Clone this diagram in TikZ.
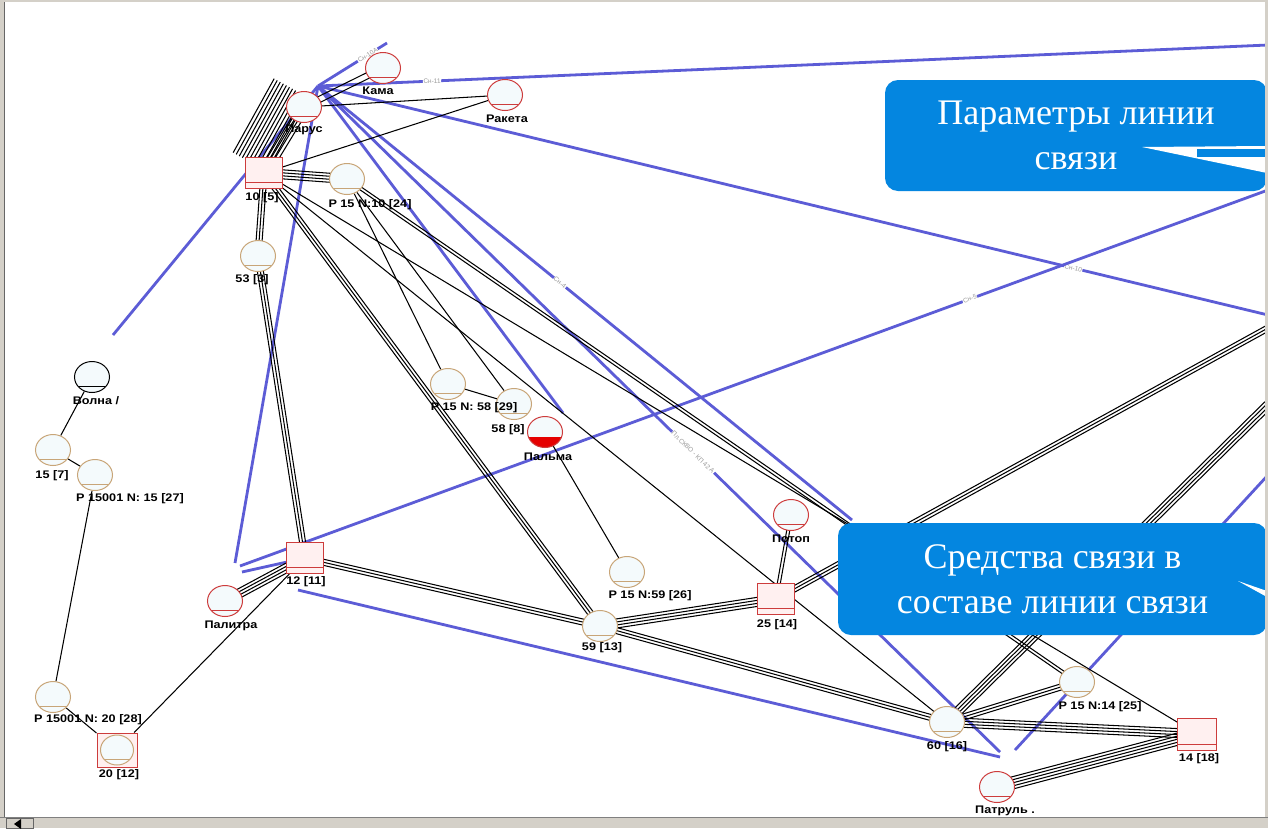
\documentclass[tikz,border=0pt]{standalone}
\usepackage{fontspec}
\newfontfamily\lblfont{Liberation Sans}[FakeStretch=1.15]
\newfontfamily\smfont{Liberation Sans}
\newfontfamily\callfont{Liberation Serif}
\usetikzlibrary{calc,shapes.geometric}
\pgfdeclarelayer{bg}
\pgfsetlayers{bg,main}
\definecolor{bl}{RGB}{92,92,214}
\definecolor{callblue}{RGB}{4,134,224}
\definecolor{stan}{RGB}{200,165,120}
\definecolor{rd}{RGB}{205,60,60}
\definecolor{nfill}{RGB}{244,250,252}
\definecolor{sqfill}{RGB}{255,240,240}
\definecolor{framec}{RGB}{212,208,200}
\newcommand\mlines[5][3]{%
  \foreach \k in {1,...,#2}{%
    \pgfmathsetmacro\off{(\k-(#2+1)/2)*#1}%
    \draw[#5] ($(#3)!\off pt!90:(#4)$) -- ($(#4)!\off pt!-90:(#3)$);}}
\tikzset{
 blk/.style={black, line width=1.05pt},
 blu/.style={bl, line width=2.8pt},
 stn/.style={ellipse, minimum width=35pt, minimum height=31pt, inner sep=0pt, draw=#1, line width=1pt, fill=nfill,
   path picture={\draw[#1, line width=0.9pt] ([yshift=6pt]path picture bounding box.south west) -- ([yshift=6pt]path picture bounding box.south east);}},
 palmast/.style={ellipse, minimum width=35pt, minimum height=31pt, inner sep=0pt, draw=rd, line width=1pt, fill=nfill,
   path picture={\fill[red!90!black] (path picture bounding box.south west) rectangle ([yshift=11pt]path picture bounding box.south east);}},
 sq/.style={rectangle, minimum width=37pt, minimum height=31pt, inner sep=0pt, draw=rd, line width=1pt, fill=sqfill,
   path picture={\draw[rd, line width=0.9pt] ([yshift=6pt]path picture bounding box.south west) -- ([yshift=6pt]path picture bounding box.south east);}},
 lbl/.style={font=\lblfont\bfseries\fontsize{11}{12}\selectfont, inner sep=0pt},
 blbl/.style={font=\smfont\fontsize{6.5}{7}\selectfont, text=black!40, fill=white, inner sep=0.5pt, sloped},
 callbox/.style={rectangle, rounded corners=13pt, fill=callblue, text=white, font=\callfont\fontsize{36}{45}\selectfont, align=center, inner sep=0pt},
}
\begin{document}
\begin{tikzpicture}[x=1pt,y=-1pt]
\useasboundingbox (0,0) rectangle (1268,828);

% ---------- station shapes ----------
\node[stn=rd] (kama) at (383,68) {};
\node[stn=rd] (parus) at (304,107) {};
\node[stn=rd] (raketa) at (505,95) {};
\node[sq] (n10) at (264,173) {};
\node[stn=stan] (p10) at (347,179) {};
\node[stn=stan] (n53) at (258,256) {};
\node[stn=black] (volna) at (92,377) {};
\node[stn=stan] (n15) at (53,450) {};
\node[stn=stan] (p15k) at (95,475) {};
\node[stn=stan] (p20k) at (53,697) {};
\node[sq, minimum width=40pt, minimum height=34pt, path picture={}] (n20) at (117,750) {};
\node[stn=stan, minimum width=33pt, minimum height=30pt] (n20c) at (117,750) {};
\node[stn=rd] (palitra) at (225,601) {};
\node[sq] (n12) at (305,558) {};
\node[stn=stan] (p58) at (448,384) {};
\node[stn=stan] (n58) at (514,404) {};
\node[palmast] (palma) at (545,432) {};
\node[stn=stan] (p59) at (627,572) {};
\node[stn=stan] (n59) at (600,626) {};
\node[sq] (n25) at (776,599) {};
\node[stn=rd] (potop) at (791,515) {};
\node[stn=stan] (n60) at (947,722) {};
\node[stn=stan] (p14) at (1077,682) {};
\node[sq, minimum width=39pt, minimum height=32pt] (n14) at (1197,734) {};
\node[stn=rd] (patrul) at (997,787) {};

% ---------- labels ----------
\node[lbl] (lkama) at (378,91) {Кама};
\node[lbl] (lparus) at (304,130) {Парус};
\node[lbl] (lraketa) at (507,119) {Ракета};
\node[lbl] (ln10) at (262,198) {10 [5]};
\node[lbl] (lp10) at (370,205) {Р 15 N:10 [24]};
\node[lbl] (ln53) at (252,280) {53 [3]};
\node[lbl] (lvolna) at (96,401) {Волна /};
\node[lbl] (ln15) at (52,476) {15 [7]};
\node[lbl] (lp15k) at (130,499) {Р 15001 N: 15 [27]};
\node[lbl] (lp20k) at (88,720) {Р 15001 N: 20 [28]};
\node[lbl] (ln20) at (119,775) {20 [12]};
\node[lbl] (lpalitra) at (231,626) {Палитра};
\node[lbl] (ln12) at (306,582) {12 [11]};
\node[lbl] (lp58) at (474,408) {Р 15 N: 58 [29]};
\node[lbl] (ln58) at (508,430) {58 [8]};
\node[lbl] (lpalma) at (548,457) {Пальма};
\node[lbl] (lp59) at (650,596) {Р 15 N:59 [26]};
\node[lbl] (ln59) at (602,648) {59 [13]};
\node[lbl] (ln25) at (777,625) {25 [14]};
\node[lbl] (lpotop) at (791,539) {Потоп};
\node[lbl] (ln60) at (947,747) {60 [16]};
\node[lbl] (lp14) at (1100,707) {Р 15 N:14 [25]};
\node[lbl] (ln14) at (1199,759) {14 [18]};
\node[lbl] (lpatrul) at (1005,811) {Патруль .};

% free ends
\coordinate (hub) at (318,86);
\coordinate (b1e) at (387,43);
\coordinate (b2e) at (1268,45);
\coordinate (b4e) at (1268,315);
\coordinate (b5s) at (113,335);
\coordinate (b6s) at (235,563);
\coordinate (b7s) at (240,566);
\coordinate (b7e) at (1268,190);
\coordinate (b8s) at (242,572);
\coordinate (b9s) at (298,590);
\coordinate (b9e) at (1000,757);
\coordinate (b10s) at (1015,750);
\coordinate (b10e) at (1268,475);
\coordinate (laE) at (563,413);
\coordinate (lbE) at (852,520);
\coordinate (lcE) at (1000,752);
\coordinate (r1) at (1268,328);
\coordinate (r2) at (1268,405);
\coordinate (hA) at (250,162);
\coordinate (hB) at (291,88);

\begin{pgfonlayer}{bg}
\fill[white] (0,0) rectangle (1268,828);
% blue lines
\draw[blu] (hub) -- node[blbl, pos=0.72]{Сн-10А} (b1e);
\draw[blu] (hub) -- node[blbl, pos=0.12]{Сн-11} (b2e);
\draw[blu] (hub) -- node[blbl, pos=0.795]{Сн-10} (b4e);
\draw[blu] (b5s) -- (hub);
\draw[blu] (b6s) -- (hub);
\draw[blu] (b7s) -- node[blbl, pos=0.71]{Сн-5} (b7e);
\draw[blu] (b8s) -- (n12);
\draw[blu] (b9s) -- (b9e);
\draw[blu] (b10s) -- (b10e);
\draw[blu] (hub) -- (laE);
\draw[blu] (hub) -- node[blbl, pos=0.453]{Сн-4} (lbE);
\draw[blu] (hub) -- node[blbl, pos=0.55]{Пл.СКВО - КП 42 А} (lcE);
% black lines
\mlines[3.5]{12}{hA}{hB}{blk}
\mlines[3.5]{4}{n10}{parus}{blk}
\mlines{4}{n10}{p10}{blk}
\mlines{3}{n10}{n53}{blk}
\mlines{3}{n53}{n12}{blk}
\mlines{3}{n10}{n59}{blk}
\mlines{2}{p10}{p14}{blk}
\mlines{1}{n10}{n60}{blk}
\mlines{1}{n10}{n14}{blk}
\draw[blk] (n10) -- (raketa);
\draw[blk] (parus) -- (raketa);
\mlines[6]{2}{parus}{kama}{blk}
\draw[blk] (p10) -- (p58);
\draw[blk] (p10) -- (n58);
\draw[blk] (p58) -- (n58);
\draw[blk] (palma) -- (p59);
\mlines{3}{n12}{n59}{blk}
\mlines{4}{n59}{n25}{blk}
\mlines{3}{n59}{n60}{blk}
\mlines{2}{n25}{potop}{blk}
\mlines{3}{n25}{r1}{blk}
\mlines{4}{n60}{r2}{blk}
\mlines{3}{n60}{p14}{blk}
\mlines{4}{n60}{n14}{blk}
\mlines{5}{patrul}{n14}{blk}
\draw[blk] (volna) -- (n15);
\draw[blk] (n15) -- (p15k);
\draw[blk] (p15k) -- (p20k);
\draw[blk] (p20k) -- (n20);
\draw[blk] (n20) -- (n12);
\mlines{4}{palitra}{n12}{blk}
\end{pgfonlayer}

% callouts
\node[callbox, minimum width=382pt, minimum height=111pt] (c1) at (1076,135.5) {Параметры линии\\связи};
\fill[white] (1142,147) -- (1267,146) -- (1267,173) -- cycle;
\fill[callblue] (1197,149) rectangle (1267,157);
\node[callbox, minimum width=429pt, minimum height=112pt] (c2) at (1052.5,579) {Средства связи в\\составе линии связи};
\fill[white] (1238,581) -- (1267,591) -- (1267,597) -- cycle;

% window frame
\fill[framec] (0,0) rectangle (4,817);
\draw[black!60, line width=0.8pt] (4,0) -- (4,817);
\fill[framec] (0,0) rectangle (1268,2);
\fill[framec] (0,817) rectangle (1268,828);
\draw[black!50] (0,817) -- (1268,817);
\draw[black!60, fill=framec] (6,818) rectangle (33,828);
\fill[black] (14,824) -- (21,819) -- (21,829) -- cycle;
\fill[framec] (1265,0) rectangle (1268,817);
\end{tikzpicture}
\end{document}
